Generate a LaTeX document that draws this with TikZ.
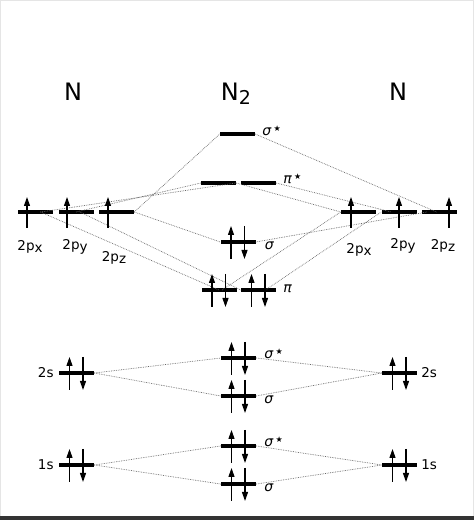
\documentclass[tikz,border=0pt]{standalone}
\usepackage{fontspec}
\setmainfont{DejaVu Sans}
\usetikzlibrary{arrows.meta}

\begin{document}
\begin{tikzpicture}[
  x=1pt,y=1pt,
  lvl/.style={rectangle,fill=black,minimum width=35pt,minimum height=3.5pt,inner sep=0pt},
  spin/.style={line width=1.1pt,-{Triangle[width=6pt,length=9pt]}},
  link/.style={densely dotted,black!60,line width=0.7pt},
  orb/.style={font=\fontsize{13.5}{13.5}\selectfont,inner sep=0pt},
  mo/.style={font=\fontsize{14}{14}\selectfont\itshape,inner sep=0pt,anchor=west},
  title/.style={font=\fontsize{24}{24}\selectfont,inner sep=0pt}
]
\useasboundingbox (0,0) rectangle (474,520);
\draw[gray!20,line width=1pt] (0.5,0.5) rectangle (473.5,519.5);
\fill[black!80] (0,0) rectangle (474,4);

% titles
\node[title] (tNl) at (73,428) {N};
\node[title] (tNm) at (236,426) {N\raisebox{-4pt}{\fontsize{19}{19}\selectfont 2}};
\node[title] (tNr) at (398,428) {N};

% atomic 2p
\node[lvl] (L2px) at (35.5,308) {};
\node[lvl] (L2py) at (76,308) {};
\node[lvl] (L2pz) at (116.5,308) {};
\node[lvl] (R2px) at (358.5,308) {};
\node[lvl] (R2py) at (399,308) {};
\node[lvl] (R2pz) at (439.5,308) {};
% molecular 2p
\node[lvl] (sg2pS) at (237.5,386) {};
\node[lvl] (piS1) at (218.5,337) {};
\node[lvl] (piS2) at (258.5,337) {};
\node[lvl] (sg2p) at (238,278) {};
\node[lvl] (pi1) at (219,230) {};
\node[lvl] (pi2) at (258.5,230) {};
% 2s and 1s
\node[lvl] (L2s) at (76.5,147) {};
\node[lvl] (sg2sS) at (238.5,162) {};
\node[lvl] (sg2s) at (238.5,124) {};
\node[lvl] (R2s) at (399.5,147) {};
\node[lvl] (L1s) at (76.5,55) {};
\node[lvl] (sg1sS) at (238.5,74) {};
\node[lvl] (sg1s) at (238.5,36) {};
\node[lvl] (R1s) at (399.5,55) {};

% correlation lines
\foreach \s in {1s,2s} {
  \draw[link] (L\s.east) -- (sg\s S.west);
  \draw[link] (L\s.east) -- (sg\s.west);
  \draw[link] (sg\s S.east) -- (R\s.west);
  \draw[link] (sg\s.east) -- (R\s.west);
}
\draw[link] (L2pz.east) -- (sg2pS.west);
\draw[link] (L2pz.east) -- (sg2p.west);
\draw[link] (sg2pS.east) -- ([xshift=-3pt]R2pz.center);
\draw[link] (sg2p.east) -- ([xshift=5pt]R2pz.west);
\draw[link] ([xshift=5pt]L2px.center) -- (piS1.east);
\draw[link] (L2py.center) -- (piS1.west);
\draw[link] ([xshift=5pt]L2px.center) -- (pi1.center);
\draw[link] ([xshift=4pt]L2py.center) -- (pi2.west);
\draw[link] (piS1.east) -- (R2px.west);
\draw[link] (piS2.east) -- ([xshift=10pt]R2py.west);
\draw[link] ([xshift=3pt]pi1.center) -- (R2px.west);
\draw[link] ([xshift=7pt]pi2.center) -- (R2py.west);

% electrons
\foreach \n/\d in {L2px/-8.5,L2py/-9,L2pz/-8.5,R2px/-7.5,R2py/0,R2pz/9.5}
  \draw[spin] ([xshift=\d pt,yshift=-16pt]\n.center) -- ++(0,31);
\foreach \n in {sg2p,pi1,pi2,L2s,sg2sS,sg2s,R2s,L1s,sg1sS,sg1s,R1s} {
  \draw[spin] ([xshift=-7pt,yshift=-17pt]\n.center) -- ++(0,33);
  \draw[spin] ([xshift=6.5pt,yshift=16pt]\n.center) -- ++(0,-33);
}

% labels
\node[orb] (lL2px) at (30,273) {2p\raisebox{-2pt}{x}};
\node[orb] (lL2py) at (75,273) {2p\raisebox{-2pt}{y}};
\node[orb] (lL2pz) at (114,262) {2p\raisebox{-2pt}{z}};
\node[orb] (lR2px) at (359,270) {2p\raisebox{-2pt}{x}};
\node[orb] (lR2py) at (403,274) {2p\raisebox{-2pt}{y}};
\node[orb] (lR2pz) at (443,274) {2p\raisebox{-2pt}{z}};
\node[orb,anchor=east] (lL2s) at ([xshift=-5pt]L2s.west) {2s};
\node[orb,anchor=west] (lR2s) at ([xshift=4pt]R2s.east) {2s};
\node[orb,anchor=east] (lL1s) at ([xshift=-5pt]L1s.west) {1s};
\node[orb,anchor=west] (lR1s) at ([xshift=4pt]R1s.east) {1s};
\node[mo] (lsg2pS) at ([xshift=7pt,yshift=3pt]sg2pS.east) {σ\,\raisebox{4pt}{\fontsize{8}{8}\selectfont ★}};
\node[mo] (lpiS) at ([xshift=7pt,yshift=4pt]piS2.east) {π\,\raisebox{4pt}{\fontsize{8}{8}\selectfont ★}};
\node[mo] (lsg2p) at ([xshift=9pt,yshift=-4pt]sg2p.east) {σ};
\node[mo] (lpi) at ([xshift=7pt,yshift=1pt]pi2.east) {π};
\node[mo] (lsg2sS) at ([xshift=8pt,yshift=4pt]sg2sS.east) {σ\,\raisebox{4pt}{\fontsize{8}{8}\selectfont ★}};
\node[mo] (lsg2s) at ([xshift=8pt,yshift=-4pt]sg2s.east) {σ};
\node[mo] (lsg1sS) at ([xshift=8pt,yshift=4pt]sg1sS.east) {σ\,\raisebox{4pt}{\fontsize{8}{8}\selectfont ★}};
\node[mo] (lsg1s) at ([xshift=8pt,yshift=-4pt]sg1s.east) {σ};
\end{tikzpicture}
\end{document}
